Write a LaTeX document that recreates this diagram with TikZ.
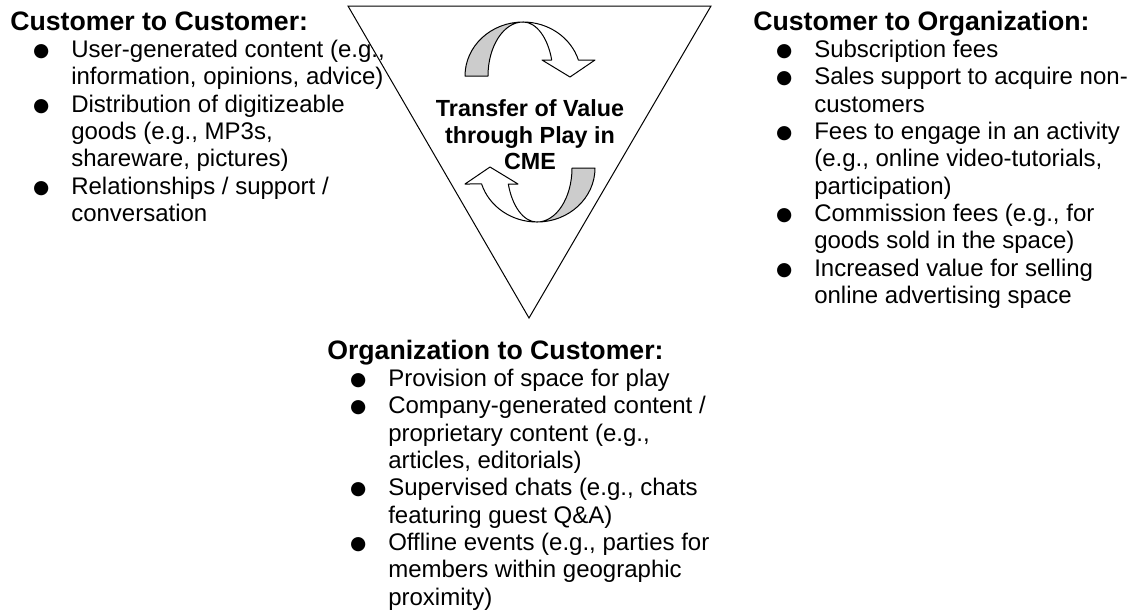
\documentclass[tikz,border=0pt]{standalone}
\usepackage{fontspec}
\setmainfont{Liberation Sans}
\newfontfamily\dejavu{DejaVu Sans}
\usepackage{tikz}
\definecolor{backgrey}{gray}{0.8}
\tikzstyle{listbox} = [inner sep=0pt, anchor=base west, font=\fontsize{18}{20.5}\selectfont]
\tikzstyle{title} = [inner sep=0pt, align=center, font=\fontsize{17.5}{19.9}\selectfont\bfseries]
\tikzstyle{band} = [draw, line width=0.75pt, line join=round]
\newcommand{\blt}{\makebox[45.75pt][l]{\hspace*{23.25pt}\makebox[0pt]{\raisebox{0.6pt}{\dejavu\fontsize{14}{14}\selectfont ●}}}}
\newcommand{\hd}[1]{\multicolumn{2}{@{}l@{}}{\fontsize{20}{20.5}\selectfont\bfseries #1}}
\newcommand{\cmearrow}{%
    \filldraw[band, fill=backgrey] (465,-76) arc[start angle=180, end angle=90, x radius=43.5pt, y radius=40.5pt]
        arc[start angle=90, end angle=180, x radius=26.25pt, y radius=40.5pt] -- cycle;
    \filldraw[band, fill=white] (523,-22) arc[start angle=90, end angle=17.2, x radius=43.5pt, y radius=40.5pt]
        -- (595,-60) -- (570,-77) -- (542,-60) -- (551.7,-60)
        arc[start angle=17.2, end angle=90, x radius=22.5pt, y radius=40.5pt] -- cycle;
}

\begin{document}
\begin{tikzpicture}[x=0.75pt, y=0.75pt]
    \useasboundingbox (0,0) rectangle (1130,-612);
    \coordinate (tl) at (348,-6);
    \coordinate (tr) at (711,-6);
    \coordinate (bt) at (529,-318);
    \draw[line width=0.75pt] (tl) -- (tr) -- (bt) -- cycle;
    \cmearrow
    \begin{scope}[rotate around={180:(530,-122)}]
        \cmearrow
    \end{scope}
    \node[title] (cme) at (530,-135) {Transfer of Value\\through Play in\\CME};

    \node[listbox] (c2c) at (10,-30) {\begin{tabular}[t]{@{}l@{}l@{}}
        \hd{Customer to Customer:}\\
        \blt & User-generated content (e.g.,\\
             & information, opinions, advice)\\
        \blt & Distribution of digitizeable\\
             & goods (e.g., MP3s,\\
             & shareware, pictures)\\
        \blt & Relationships / support /\\
             & conversation
    \end{tabular}};
    \node[listbox] (c2o) at (753,-30) {\begin{tabular}[t]{@{}l@{}l@{}}
        \hd{Customer to Organization:}\\
        \blt & Subscription fees\\
        \blt & Sales support to acquire non-\\
             & customers\\
        \blt & Fees to engage in an activity\\
             & (e.g., online video-tutorials,\\
             & participation)\\
        \blt & Commission fees (e.g., for\\
             & goods sold in the space)\\
        \blt & Increased value for selling\\
             & online advertising space
    \end{tabular}};
    \node[listbox] (o2c) at (327,-359) {\begin{tabular}[t]{@{}l@{}l@{}}
        \hd{Organization to Customer:}\\
        \blt & Provision of space for play\\
        \blt & Company-generated content /\\
             & proprietary content (e.g.,\\
             & articles, editorials)\\
        \blt & Supervised chats (e.g., chats\\
             & featuring guest Q\&A)\\
        \blt & Offline events (e.g., parties for\\
             & members within geographic\\
             & proximity)
    \end{tabular}};
\end{tikzpicture}
\end{document}
